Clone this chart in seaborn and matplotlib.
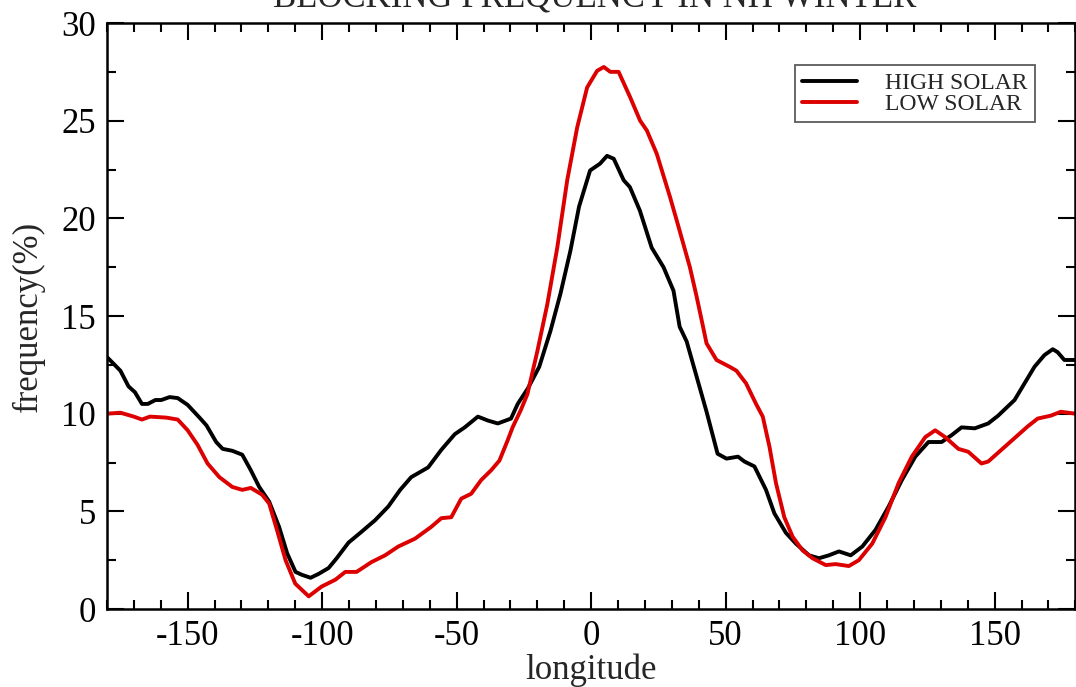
import matplotlib
matplotlib.use("Agg")
import matplotlib.pyplot as plt
import numpy as np
import pandas as pd
import seaborn as sns
from matplotlib.ticker import MultipleLocator

# values
high_lon = [-180, -175, -172, -169.6, -167, -164.8, -162, -159.8, -156.7, -153.7,
            -150, -145.6, -143, -139.4, -137, -133.4, -129.7, -126.5, -123.4, -119.7,
            -116, -113, -109.9, -107.5, -104.3, -101.3, -97.6, -94.6, -90.2, -85.4,
            -80.3, -75.4, -71, -66.9, -60.6, -55.7, -50.7, -47, -42.1, -38.4,
            -34.7, -29.8, -27.3, -23.5, -19.3, -15.1, -11.4, -7.7, -4.5, -0.4,
            3.3, 5.9, 8.4, 12.1, 14.4, 18.1, 22.5, 26.9, 30.6, 32.9,
            35.5, 39.2, 42.9, 47, 50.3, 54.6, 57, 60.7, 65, 68.1,
            72.4, 76.1, 81, 84.7, 88.4, 92.1, 96.5, 100.8, 105.7, 110.6,
            115.5, 120.5, 125.4, 130.3, 134, 137.7, 142.6, 147.6, 151.3, 157.4,
            161.1, 164.8, 168.5, 171.6, 173.4, 175.9, 180]
high_freq = [12.9, 12.2, 11.4, 11.1, 10.5, 10.5, 10.7, 10.7, 10.85, 10.8,
             10.45, 9.8, 9.4, 8.55, 8.2, 8.1, 7.9, 7.1, 6.25, 5.5,
             4.2, 2.85, 1.9, 1.75, 1.6, 1.8, 2.1, 2.6, 3.4, 3.95,
             4.55, 5.25, 6.1, 6.75, 7.25, 8.15, 8.95, 9.3, 9.85, 9.65,
             9.5, 9.75, 10.5, 11.3, 12.4, 14.25, 16.15, 18.35, 20.6, 22.45,
             22.8, 23.2, 23.05, 21.95, 21.6, 20.4, 18.5, 17.5, 16.3, 14.45,
             13.7, 11.9, 10.1, 7.95, 7.7, 7.8, 7.55, 7.3, 6.1, 4.9,
             3.9, 3.35, 2.75, 2.6, 2.75, 2.95, 2.75, 3.2, 4.05, 5.25,
             6.6, 7.8, 8.55, 8.55, 8.9, 9.3, 9.25, 9.5, 9.9, 10.7,
             11.55, 12.4, 13.0, 13.3, 13.15, 12.75, 12.75]

low_lon = [-180, -175, -170, -167, -164, -158, -153.7, -150, -146.3, -142.6,
           -138.2, -133.4, -129.7, -126.5, -122.3, -119.7, -116.8, -113.6, -110, -105,
           -100.2, -95.1, -91.4, -87.2, -81.7, -76.6, -71.7, -65.5, -59.5, -55.7,
           -52, -48.3, -44.6, -40.9, -37.2, -34.1, -31, -29.2, -26.1, -23.7,
           -20, -16.3, -12.6, -8.9, -5.2, -1.5, 2.2, 4.7, 7.1, 10.2,
           14.5, 18.2, 20.7, 24.4, 29.3, 31.8, 36.7, 39.2, 41.6, 42.9,
           46.6, 51.5, 54, 57.6, 61.3, 63.8, 66.3, 68.7, 71.8, 74.9,
           78.6, 82.3, 87.2, 90.9, 95.8, 99.5, 104.5, 109.4, 114.3, 119.2,
           124.2, 127.9, 131.6, 136.5, 140.2, 145.1, 147.6, 152.5, 157.4, 162.3,
           166, 170.9, 174.6, 180]
low_freq = [10.0, 10.05, 9.85, 9.7, 9.85, 9.8, 9.7, 9.15, 8.4, 7.45,
            6.75, 6.25, 6.1, 6.2, 5.85, 5.4, 4.05, 2.5, 1.3, 0.65,
            1.15, 1.5, 1.9, 1.9, 2.4, 2.75, 3.2, 3.6, 4.2, 4.65,
            4.7, 5.65, 5.9, 6.6, 7.1, 7.6, 8.65, 9.3, 10.2, 11.0,
            13.2, 15.6, 18.5, 21.95, 24.65, 26.7, 27.55, 27.75, 27.5, 27.5,
            26.2, 25.0, 24.5, 23.3, 21.1, 19.9, 17.5, 16.0, 14.45, 13.6,
            12.75, 12.4, 12.2, 11.55, 10.5, 9.85, 8.3, 6.45, 4.7, 3.7,
            3.0, 2.6, 2.25, 2.3, 2.2, 2.5, 3.35, 4.7, 6.45, 7.8,
            8.8, 9.15, 8.8, 8.2, 8.05, 7.45, 7.55, 8.15, 8.75, 9.35,
            9.75, 9.9, 10.1, 10.0]

series_names = ["HIGH SOLAR", "LOW SOLAR"]
title_text = "BLOCKING FREQUENCY IN NH WINTER"

df = pd.concat([
    pd.DataFrame({"longitude": high_lon, "frequency": high_freq, "case": series_names[0]}),
    pd.DataFrame({"longitude": low_lon, "frequency": low_freq, "case": series_names[1]}),
], ignore_index=True)

sns.set_style("ticks")
plt.rcParams["font.family"] = ["Liberation Serif", "DejaVu Serif"]
plt.rcParams["axes.unicode_minus"] = False

fig = plt.figure(figsize=(10.76, 6.87), dpi=100)
ax = fig.add_axes([0.0994, 0.1135, 0.9, 0.853])

sns.lineplot(
    data=df, x="longitude", y="frequency", hue="case",
    palette={series_names[0]: "#000000", series_names[1]: "#dc0000"},
    sort=False, estimator=None, lw=2.8, ax=ax,
)

ax.set_xlim(-180, 180)
ax.set_ylim(0, 30)
ax.xaxis.set_major_locator(MultipleLocator(50))
ax.xaxis.set_minor_locator(MultipleLocator(10))
ax.yaxis.set_major_locator(MultipleLocator(5))
ax.yaxis.set_minor_locator(MultipleLocator(2.5))
ax.tick_params(which="both", direction="in", top=True, right=True,
               width=1.5, colors="black", labelsize=25, pad=8)
ax.tick_params(which="major", length=12)
ax.tick_params(which="minor", length=6.5)
for s in ax.spines.values():
    s.set_linewidth(1.8)
    s.set_color("black")

ax.set_xlabel("longitude", fontsize=25, labelpad=0)
ax.set_ylabel("frequency(%)", fontsize=25, labelpad=12)

leg = ax.legend(loc="upper right", bbox_to_anchor=(0.958, 0.928), borderaxespad=0,
                fontsize=17, frameon=True, fancybox=False, handlelength=2.3,
                borderpad=0.3, labelspacing=0.0, handletextpad=1.2)
leg.get_frame().set_edgecolor("#333333")
leg.get_frame().set_linewidth(1.3)
for line in leg.get_lines():
    line.set_linewidth(2.8)

# title sits mostly above the top edge, as in the reference
fig.text(0.553, 0.99, title_text, ha="center", va="baseline", fontsize=25)

fig.savefig("out.png", dpi=100)
